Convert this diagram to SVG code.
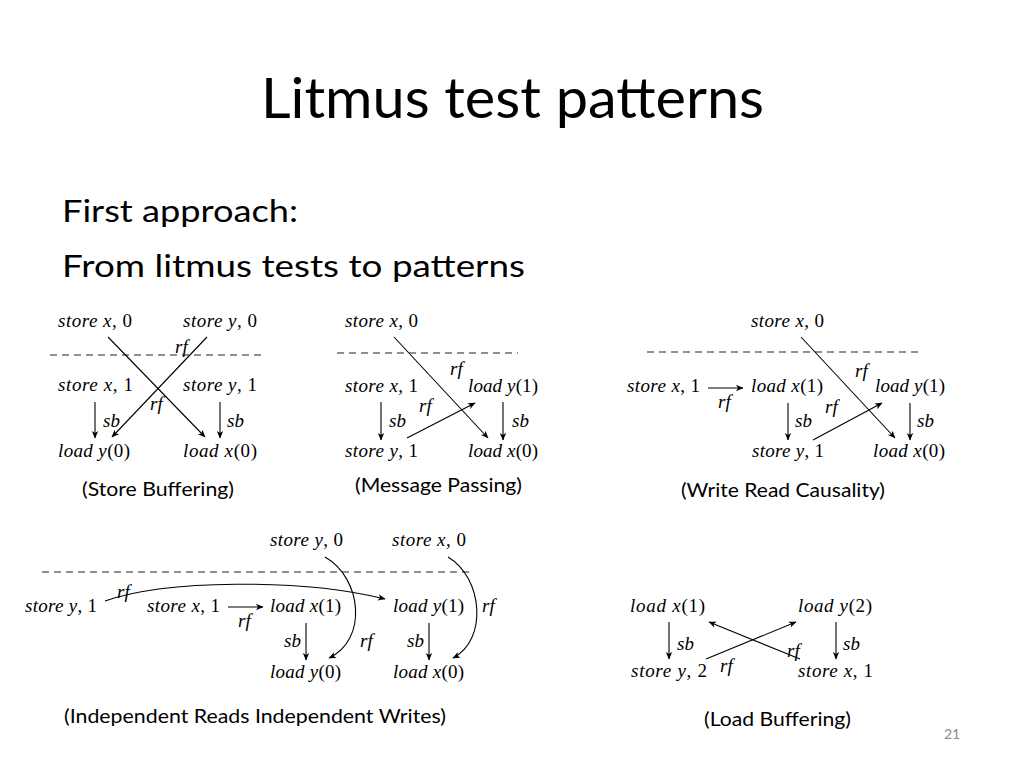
<svg xmlns="http://www.w3.org/2000/svg" width="1024" height="768" viewBox="0 0 1024 768">
<style>
.bg{fill:#fff}
.title{font-family:Lato,"Open Sans",sans-serif;font-size:56px;fill:#000}
.body{font-family:Lato,"Open Sans",sans-serif;font-size:31px;fill:#000}
.cap{font-family:Lato,"Open Sans",sans-serif;font-size:19px;fill:#000}
.pg{font-family:Lato,"Open Sans",sans-serif;font-size:14px;fill:#8c8c8c}
.m{font-family:"Liberation Serif",serif;font-style:italic;font-size:19px;fill:#000}
.n{font-style:normal}
.ln{fill:none;stroke:#000;stroke-width:1.1}
.ar{fill:none;stroke:#000;stroke-width:1.1;marker-end:url(#ah)}
.dash{fill:none;stroke:#222;stroke-width:1.1;stroke-dasharray:7 5}
</style>
<defs>
<marker id="ah" viewBox="-8 -4 9 8" refX="0" refY="0" markerWidth="9" markerHeight="8" markerUnits="userSpaceOnUse" orient="auto">
<path d="M0.5,0 L-7,-3.2 L-5,0 L-7,3.2 Z" fill="#000"/>
</marker>
</defs>
<rect class="bg" x="0" y="0" width="1024" height="768"/>

<g id="title"><text class="title" x="261" y="118" textLength="503" lengthAdjust="spacingAndGlyphs">Litmus test patterns</text></g>
<g id="body">
<text class="body" x="62" y="222" textLength="236" lengthAdjust="spacingAndGlyphs">First approach:</text>
<text class="body" x="62" y="277" textLength="463" lengthAdjust="spacingAndGlyphs">From litmus tests to patterns</text>
</g>

<!-- Store Buffering -->
<g id="sb_sx0"><text class="m" x="58" y="327" textLength="74">store x<tspan class="n">, 0</tspan></text></g>
<g id="sb_sy0"><text class="m" x="183" y="327" textLength="74">store y<tspan class="n">, 0</tspan></text></g>
<g id="sb_sx1"><text class="m" x="58" y="391" textLength="75">store x<tspan class="n">, 1</tspan></text></g>
<g id="sb_sy1"><text class="m" x="183" y="391" textLength="74">store y<tspan class="n">, 1</tspan></text></g>
<g id="sb_ly0"><text class="m" x="58" y="457" textLength="72">load y<tspan class="n">(0)</tspan></text></g>
<g id="sb_lx0"><text class="m" x="183" y="457" textLength="74">load x<tspan class="n">(0)</tspan></text></g>

<!-- Message Passing -->
<g id="mp_sx0"><text class="m" x="345" y="327" textLength="73">store x<tspan class="n">, 0</tspan></text></g>
<g id="mp_sx1"><text class="m" x="345" y="392" textLength="73">store x<tspan class="n">, 1</tspan></text></g>
<g id="mp_ly1"><text class="m" x="468" y="392" textLength="70">load y<tspan class="n">(1)</tspan></text></g>
<g id="mp_sy1"><text class="m" x="345" y="457" textLength="73">store y<tspan class="n">, 1</tspan></text></g>
<g id="mp_lx0"><text class="m" x="468" y="457" textLength="70">load x<tspan class="n">(0)</tspan></text></g>

<!-- Write Read Causality -->
<g id="wrc_sx0"><text class="m" x="751" y="327" textLength="73">store x<tspan class="n">, 0</tspan></text></g>
<g id="wrc_sx1"><text class="m" x="627" y="392" textLength="73">store x<tspan class="n">, 1</tspan></text></g>
<g id="wrc_lx1"><text class="m" x="751" y="392" textLength="72">load x<tspan class="n">(1)</tspan></text></g>
<g id="wrc_ly1"><text class="m" x="875" y="392" textLength="70">load y<tspan class="n">(1)</tspan></text></g>
<g id="wrc_sy1"><text class="m" x="752" y="457" textLength="72">store y<tspan class="n">, 1</tspan></text></g>
<g id="wrc_lx0"><text class="m" x="873" y="457" textLength="72">load x<tspan class="n">(0)</tspan></text></g>

<!-- IRIW -->
<g id="iriw_sy0"><text class="m" x="270" y="546" textLength="73">store y<tspan class="n">, 0</tspan></text></g>
<g id="iriw_sx0"><text class="m" x="392" y="546" textLength="74">store x<tspan class="n">, 0</tspan></text></g>
<g id="iriw_sy1"><text class="m" x="25" y="612" textLength="72">store y<tspan class="n">, 1</tspan></text></g>
<g id="iriw_sx1"><text class="m" x="147" y="612" textLength="73">store x<tspan class="n">, 1</tspan></text></g>
<g id="iriw_lx1"><text class="m" x="270" y="612" textLength="71">load x<tspan class="n">(1)</tspan></text></g>
<g id="iriw_ly1"><text class="m" x="393" y="612" textLength="71">load y<tspan class="n">(1)</tspan></text></g>
<g id="iriw_ly0"><text class="m" x="270" y="678" textLength="71">load y<tspan class="n">(0)</tspan></text></g>
<g id="iriw_lx0"><text class="m" x="393" y="678" textLength="71">load x<tspan class="n">(0)</tspan></text></g>

<!-- Load Buffering -->
<g id="lb_lx1"><text class="m" x="630" y="612" textLength="75">load x<tspan class="n">(1)</tspan></text></g>
<g id="lb_ly2"><text class="m" x="798" y="612" textLength="74">load y<tspan class="n">(2)</tspan></text></g>
<g id="lb_sy2"><text class="m" x="631" y="677" textLength="76">store y<tspan class="n">, 2</tspan></text></g>
<g id="lb_sx1"><text class="m" x="798" y="677" textLength="75">store x<tspan class="n">, 1</tspan></text></g>

<g id="connectors">
<!-- SB -->
<path class="dash" d="M50,355 H263"/>
<path class="ar" d="M95,402 V438"/>
<path class="ar" d="M220,402 V438"/>
<path class="ar" d="M108,337 L205,437"/>
<path class="ar" d="M207,337 L112,437"/>
<text class="m" x="175" y="353">rf</text>
<text class="m" x="150" y="410">rf</text>
<text class="m" x="103" y="427">sb</text>
<text class="m" x="227" y="427">sb</text>
<!-- MP -->
<path class="dash" d="M337,353 H518"/>
<path class="ar" d="M381,402 V440"/>
<path class="ar" d="M503,402 V440"/>
<path class="ar" d="M394,337 L488,438"/>
<path class="ar" d="M407,438 L475,403"/>
<text class="m" x="450" y="375">rf</text>
<text class="m" x="419" y="412">rf</text>
<text class="m" x="389" y="427">sb</text>
<text class="m" x="512" y="427">sb</text>
<!-- WRC -->
<path class="dash" d="M647,352 H923"/>
<path class="ar" d="M708,388 H743"/>
<path class="ar" d="M788,403 V440"/>
<path class="ar" d="M910,403 V440"/>
<path class="ar" d="M801,337 L895,438"/>
<path class="ar" d="M813,440 L882,403"/>
<text class="m" x="718" y="408">rf</text>
<text class="m" x="855" y="377">rf</text>
<text class="m" x="825" y="413">rf</text>
<text class="m" x="795" y="427">sb</text>
<text class="m" x="917" y="427">sb</text>
<!-- IRIW -->
<path class="dash" d="M42,572 H473"/>
<path class="ar" d="M228,607 H263"/>
<path class="ar" d="M306,623 V660"/>
<path class="ar" d="M429,623 V660"/>
<path class="ar" d="M105,601 C165,580 300,578 385,599"/>
<path class="ar" d="M325,557 C362,578 368,640 329,658"/>
<path class="ar" d="M448,557 C483,578 488,640 453,658"/>
<text class="m" x="117" y="598">rf</text>
<text class="m" x="238" y="627">rf</text>
<text class="m" x="360" y="647">rf</text>
<text class="m" x="482" y="612">rf</text>
<text class="m" x="284" y="647">sb</text>
<text class="m" x="407" y="647">sb</text>
<!-- LB -->
<path class="ar" d="M669,622 V659"/>
<path class="ar" d="M836,622 V659"/>
<path class="ar" d="M706,659 L796,622"/>
<path class="ar" d="M800,659 L709,622"/>
<text class="m" x="787" y="657">rf</text>
<text class="m" x="720" y="672">rf</text>
<text class="m" x="677" y="650">sb</text>
<text class="m" x="843" y="650">sb</text>
</g>

<g id="captions">
<text class="cap" x="82" y="496" textLength="152" lengthAdjust="spacingAndGlyphs">(Store Buffering)</text>
<text class="cap" x="355" y="492" textLength="167" lengthAdjust="spacingAndGlyphs">(Message Passing)</text>
<text class="cap" x="681" y="497" textLength="204" lengthAdjust="spacingAndGlyphs">(Write Read Causality)</text>
<text class="cap" x="64" y="723" textLength="382" lengthAdjust="spacingAndGlyphs">(Independent Reads Independent Writes)</text>
<text class="cap" x="704" y="726" textLength="147" lengthAdjust="spacingAndGlyphs">(Load Buffering)</text>
<text class="pg" x="944" y="739">21</text>
</g>
</svg>
